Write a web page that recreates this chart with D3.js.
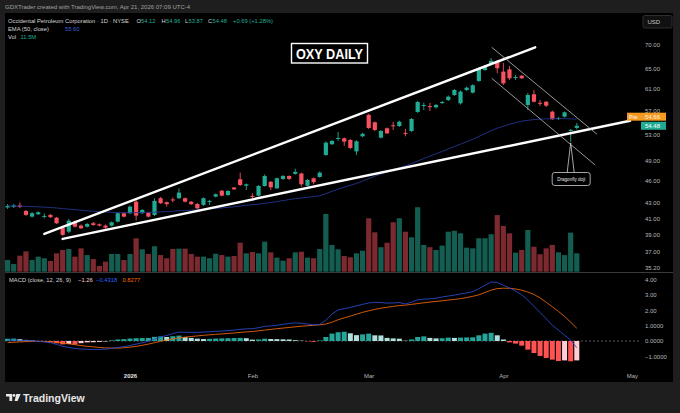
<!DOCTYPE html>
<html>
<head>
<meta charset="utf-8">
<script src="https://cdn.jsdelivr.net/npm/d3@7"></script>
<style>
  html, body { margin: 0; padding: 0; background: #1e1e1e; }
  svg { display: block; font-family: "Liberation Sans", Arial, sans-serif; }
</style>
</head>
<body>
<div id="chart"></div>
<script>
// OHLC, one per trading day, Dec 3 2025 .. Apr 20 2026
const opens = [42.37,42.44,42.63,41.91,41.19,41.49,41.18,41.41,41.06,39.82,
  39.33,40.56,40.07,39.94,40.36,40.23,40.07,40.07,40.56,41.62,
  41.62,43.13,41.62,41.66,41.41,43.59,43.06,43.43,43.59,43.59,
  43.13,42.83,42.70,43.13,43.81,44.61,44.03,45.05,46.21,45.30,
  43.90,43.94,45.26,45.85,44.94,46.25,46.68,46.98,47.04,45.30,
  46.35,46.54,49.80,51.47,52.35,52.42,52.15,50.35,52.74,56.34,
  55.06,52.52,54.06,54.56,54.44,53.30,53.61,56.84,57.90,57.87,
  57.66,58.43,58.97,59.90,58.38,60.82,60.33,62.53,64.68,65.87,
  66.34,64.35,64.81,63.17,63.56,58.07,60.03,58.47,58.66,56.89,
  55.63,56.02,53.70,54.12];
const highs = [42.83,42.83,43.03,42.04,41.79,41.85,41.60,41.53,41.15,40.03,
  40.90,40.71,40.21,40.40,40.52,40.34,40.21,40.58,41.72,41.72,
  42.63,43.36,42.17,41.79,43.59,43.76,43.16,43.70,44.94,43.70,
  43.23,42.96,43.70,43.36,44.24,44.71,44.71,45.12,47.16,45.61,
  44.24,45.40,46.90,45.96,46.47,46.82,46.75,47.73,47.16,46.25,
  46.47,47.34,51.91,52.15,53.44,52.55,52.31,52.10,53.31,56.52,
  55.20,53.77,54.19,55.11,55.36,53.94,55.81,58.79,58.52,58.44,
  58.26,58.79,59.81,61.01,60.73,61.47,61.91,65.28,65.67,67.11,
  66.70,66.10,65.47,63.70,63.70,60.27,60.82,58.97,58.79,57.10,
  55.98,56.93,53.95,54.96];
const lows = [42.17,42.30,42.30,41.28,41.09,41.41,40.96,41.02,40.27,38.82,
  39.17,39.84,39.66,39.84,40.03,39.97,39.59,39.97,40.46,41.09,
  41.53,40.71,41.53,41.09,41.28,42.83,42.48,43.03,43.49,43.03,
  42.70,42.17,42.57,42.70,43.70,43.84,43.90,44.71,45.26,44.71,
  43.56,43.84,45.19,44.71,44.85,46.11,46.11,46.86,45.16,45.19,
  45.50,46.44,49.65,51.36,51.99,51.20,50.73,49.80,52.58,53.94,
  53.61,52.39,53.12,53.77,54.27,52.74,53.44,56.67,57.19,57.01,
  57.48,58.26,58.79,59.72,58.15,60.63,60.17,62.34,64.48,65.67,
  64.04,61.75,62.72,62.72,62.92,57.19,58.52,57.90,57.72,55.45,
  55.45,55.90,51.85,53.87];
const closes = [42.57,42.63,42.44,41.41,41.62,41.75,41.28,41.12,40.36,38.94,
  40.68,39.94,39.74,40.27,40.15,40.07,39.82,40.48,41.62,41.19,
  42.48,41.32,42.04,41.19,43.23,42.93,42.80,43.29,44.35,43.13,
  42.80,42.26,43.59,43.23,44.13,43.94,44.57,44.80,45.40,45.50,
  43.77,45.26,46.68,45.08,46.35,46.68,46.25,47.28,45.50,46.11,
  45.79,47.16,51.72,51.99,52.47,51.88,50.88,51.94,53.15,54.11,
  53.77,53.61,53.22,54.39,55.16,53.14,55.63,58.61,58.08,57.69,
  58.08,58.61,59.58,60.82,60.51,61.25,61.72,65.02,65.47,66.54,
  65.02,62.07,63.05,63.31,63.05,59.90,58.66,58.29,57.95,55.58,
  55.81,56.79,53.79,54.48];
// volume, millions
const volumes = [7.3,4.8,10.0,12.7,7.3,9.4,8.4,6.7,11.5,13.6,
  14.2,9.4,14.6,10.4,7.9,3.6,6.3,11.1,11.1,7.3,
  11.1,20.9,14.0,11.1,15.9,10.4,8.4,14.2,14.4,14.4,
  11.1,9.4,9.4,8.4,11.2,10.4,9.4,9.8,18.1,11.5,
  12.3,11.5,18.8,12.1,8.8,6.9,8.4,12.1,12.5,8.8,
  8.4,14.2,36.1,16.7,14.0,9.8,9.0,11.5,13.1,33.4,
  24.6,15.3,18.1,30.9,33.4,25.0,21.5,40.3,16.7,15.3,
  13.6,16.3,25.0,25.6,24.0,15.0,14.6,20.9,20.9,23.4,
  35.4,28.6,24.0,11.9,13.6,26.1,15.6,10.9,14.6,16.7,
  12.1,10.4,24.4,11.5];
// EMA(50, close)
const ema50 = [42.57,42.56,42.54,42.51,42.48,42.45,42.41,42.36,42.30,42.22,
  42.15,42.08,42.00,41.94,41.88,41.83,41.78,41.74,41.71,41.69,
  41.68,41.70,41.71,41.73,41.76,41.80,41.84,41.88,41.94,41.98,
  42.02,42.06,42.12,42.18,42.25,42.31,42.38,42.46,42.56,42.66,
  42.72,42.80,42.92,43.02,43.14,43.28,43.40,43.54,43.62,43.72,
  43.80,43.92,44.22,44.52,44.82,45.10,45.35,45.62,45.92,46.30,
  46.65,46.95,47.25,47.56,47.88,48.15,48.48,48.88,49.26,49.62,
  49.98,50.34,50.72,51.12,51.48,51.86,52.25,52.72,53.18,53.66,
  54.08,54.40,54.72,55.00,55.25,55.40,55.52,55.60,55.66,55.66,
  55.67,55.70,55.64,55.60];
// MACD (12, 26, 9)
const macdLine = [0.06,0.06,0.05,0.03,0.00,-0.02,-0.06,-0.11,-0.22,-0.35,
  -0.42,-0.48,-0.52,-0.54,-0.55,-0.55,-0.53,-0.48,-0.42,-0.37,
  -0.30,-0.20,-0.12,-0.02,0.12,0.26,0.36,0.48,0.58,0.57,
  0.56,0.56,0.58,0.60,0.63,0.65,0.67,0.71,0.76,0.79,
  0.80,0.86,0.95,0.98,1.02,1.08,1.14,1.18,1.15,1.10,
  1.05,1.08,1.35,1.75,2.02,2.10,2.18,2.28,2.38,2.47,
  2.51,2.50,2.46,2.47,2.50,2.40,2.52,2.68,2.72,2.74,
  2.78,2.86,2.92,2.98,3.05,3.12,3.20,3.40,3.62,3.83,
  3.80,3.62,3.45,3.25,3.00,2.66,2.25,1.85,1.45,1.02,
  0.70,0.38,0.05,-0.4318];
const signalLine = [-0.10,-0.08,-0.06,-0.04,-0.03,-0.02,-0.03,-0.05,-0.08,-0.13,
  -0.18,-0.24,-0.30,-0.34,-0.38,-0.42,-0.45,-0.46,-0.46,-0.44,
  -0.40,-0.35,-0.28,-0.20,-0.11,-0.02,0.06,0.14,0.20,0.25,
  0.29,0.33,0.37,0.40,0.43,0.46,0.49,0.52,0.56,0.59,
  0.62,0.66,0.71,0.75,0.80,0.84,0.88,0.92,0.96,0.99,
  1.02,1.05,1.10,1.22,1.38,1.50,1.62,1.74,1.86,1.96,
  2.05,2.13,2.19,2.25,2.30,2.33,2.38,2.43,2.48,2.53,
  2.57,2.61,2.66,2.70,2.75,2.82,2.90,3.00,3.15,3.30,
  3.40,3.43,3.42,3.38,3.30,3.18,3.02,2.80,2.52,2.22,
  1.92,1.60,1.22,0.8277];
const macdHist = [0.15,0.16,0.12,0.07,0.03,-0.01,-0.04,-0.09,-0.15,-0.22,
  -0.20,-0.23,-0.14,-0.09,-0.08,-0.06,-0.03,0.04,0.10,0.12,
  0.16,0.18,0.19,0.20,0.27,0.30,0.26,0.31,0.35,0.25,
  0.20,0.15,0.13,0.14,0.16,0.17,0.18,0.19,0.20,0.18,
  0.09,0.10,0.15,0.13,0.12,0.11,0.10,0.05,0.02,-0.02,
  -0.05,0.03,0.26,0.48,0.57,0.60,0.50,0.38,0.43,0.48,
  0.37,0.36,0.20,0.17,0.15,0.02,0.10,0.26,0.30,0.20,
  0.17,0.18,0.22,0.20,0.22,0.23,0.24,0.37,0.48,0.53,
  0.37,0.10,-0.09,-0.17,-0.30,-0.56,-0.78,-0.97,-1.10,-1.21,
  -1.30,-1.26,-1.32,-1.26];

// axes
const priceTicks = [70, 65, 61, 57, 53, 49, 46, 43, 41, 39, 37, 35.2];
const macdTicks = [4, 3, 2, 1, 0, -1];
const timeTickIdx = [20, 40, 59, 81, 102];
const timeTickLabels = ['2026', 'Feb', 'Mar', 'Apr', 'May'];

// drawings: [bar index, price]
const upperTrend = [[6.0, 39.05], [86.2, 69.35]];
const lowerTrend = [[9.0, 38.46], [101.7, 55.32]];
const channelTop = [[79.1, 69.36], [96.3, 53.07]];
const channelBottom = [[79.1, 63.05], [96.0, 48.28]];
const prePrice = 54.66;

const W = 680, H = 413;
const upColor = '#22ab94', downColor = '#f7525f';

const svg = d3.select('#chart').append('svg')
    .attr('width', W)
    .attr('height', H);

svg.append('rect').attr('width', W).attr('height', H).attr('fill', '#1e1e1e');
svg.append('rect').attr('x', 5).attr('y', 13).attr('width', 668).attr('height', 369).attr('fill', '#000');

// Escalas
const x = d3.scaleLinear().domain([0, 93]).range([7.6, 576.8]);
const y = d3.scaleLog().domain([35.2, 70]).range([267.7, 44.3]);
const yVol = d3.scaleLinear().domain([0, 40]).range([271.7, 207.7]);
const yMacd = d3.scaleLinear().domain([-1, 4]).range([356.4, 279.4]);

svg.append('clipPath').attr('id', 'pricePane')
    .append('rect').attr('x', 5).attr('y', 13).attr('width', 635).attr('height', 259);

const pane = svg.append('g').attr('clip-path', 'url(#pricePane)');
const bars = d3.range(closes.length);
const isUp = i => closes[i] >= opens[i];

// Volume
pane.selectAll('.vol')
    .data(bars)
    .enter()
    .append('rect')
    .attr('class', 'vol')
    .attr('x', i => x(i) - 2.6)
    .attr('width', 5.2)
    .attr('y', i => yVol(volumes[i]))
    .attr('height', i => yVol(0) - yVol(volumes[i]))
    .attr('fill', i => isUp(i) ? 'rgba(34,171,148,0.55)' : 'rgba(247,82,95,0.5)');

// Candles
const candle = pane.selectAll('.candle')
    .data(bars)
    .enter()
    .append('g')
    .attr('class', 'candle');

candle.append('line')
    .attr('x1', i => x(i)).attr('x2', i => x(i))
    .attr('y1', i => y(highs[i])).attr('y2', i => y(lows[i]))
    .attr('stroke', i => isUp(i) ? upColor : downColor)
    .attr('stroke-width', 0.9);

candle.append('rect')
    .attr('x', i => x(i) - 2.1)
    .attr('width', 4.2)
    .attr('y', i => y(Math.max(opens[i], closes[i])))
    .attr('height', i => Math.max(1, Math.abs(y(opens[i]) - y(closes[i]))))
    .attr('fill', i => isUp(i) ? upColor : downColor);

// EMA 50
pane.append('path')
    .attr('d', d3.line().x((d, i) => x(i)).y(d => y(d))(ema50))
    .attr('fill', 'none')
    .attr('stroke', '#24378f')
    .attr('stroke-width', 0.9);

// Linhas de tendência
const seg = d3.line().x(d => x(d[0])).y(d => y(d[1]));
[upperTrend, lowerTrend].forEach(t => {
    pane.append('path').attr('d', seg(t))
        .attr('stroke', '#fff').attr('stroke-width', 2.4).attr('stroke-linecap', 'round');
});
[channelTop, channelBottom].forEach(t => {
    pane.append('path').attr('d', seg(t))
        .attr('stroke', '#bdbdbd').attr('stroke-width', 0.8);
});

// Dragonfly doji callout
const tipX = x(92), tipY = y(lows[92]);
pane.append('path')
    .attr('d', `M${tipX - 3.5},172.5 L${tipX},${tipY + 1} L${tipX + 3.5},172.5`)
    .attr('fill', 'none').attr('stroke', '#cfcfcf').attr('stroke-width', 0.8);
pane.append('rect')
    .attr('x', tipX - 18.5).attr('y', 172.5).attr('width', 38).attr('height', 13).attr('rx', 2.5)
    .attr('fill', '#000').attr('stroke', '#cfcfcf').attr('stroke-width', 0.8);
pane.append('text')
    .attr('x', tipX + 0.5).attr('y', 181)
    .attr('text-anchor', 'middle')
    .attr('fill', '#e6e6e6')
    .style('font-size', '4.6px')
    .text('Dragonfly doji');

// Title box
svg.append('rect')
    .attr('x', 291.5).attr('y', 43.5).attr('width', 76).attr('height', 19.5)
    .attr('fill', 'none').attr('stroke', '#fff').attr('stroke-width', 1.4);
svg.append('text')
    .attr('x', 296).attr('y', 59)
    .attr('fill', '#fff')
    .attr('textLength', 67).attr('lengthAdjust', 'spacingAndGlyphs')
    .style('font-size', '15px').style('font-weight', 'bold')
    .text('OXY DAILY');

// separator
svg.append('line').attr('x1', 5).attr('x2', 673).attr('y1', 272.5).attr('y2', 272.5)
    .attr('stroke', '#3a3a3a').attr('stroke-width', 1);

// MACD pane
svg.append('line')
    .attr('x1', 5).attr('x2', 640)
    .attr('y1', yMacd(0)).attr('y2', yMacd(0))
    .attr('stroke', '#6a6a6a').attr('stroke-dasharray', '2,2').attr('stroke-width', 0.8);

const histColor = i => {
    const h = macdHist[i], prev = i > 0 ? macdHist[i - 1] : 0;
    if (h >= 0) return h > prev ? '#26a69a' : '#b2dfdb';
    return h < prev ? '#ff5252' : '#ffcdd2';
};
svg.selectAll('.hist')
    .data(bars)
    .enter()
    .append('rect')
    .attr('class', 'hist')
    .attr('x', i => x(i) - 2.5)
    .attr('width', 5)
    .attr('y', i => Math.min(yMacd(0), yMacd(macdHist[i])))
    .attr('height', i => Math.abs(yMacd(macdHist[i]) - yMacd(0)))
    .attr('fill', histColor);

const macdPath = d3.line().x((d, i) => x(i)).y(d => yMacd(d));
svg.append('path').attr('d', macdPath(signalLine))
    .attr('fill', 'none').attr('stroke', '#e8640c').attr('stroke-width', 0.9);
svg.append('path').attr('d', macdPath(macdLine))
    .attr('fill', 'none').attr('stroke', '#2a48c8').attr('stroke-width', 0.9);

// Eixos
const axisText = g => {
    g.select('.domain').remove();
    g.selectAll('line').remove();
    g.selectAll('text')
        .attr('fill', '#b8b8b8')
        .style('font-size', '6px')
        .style('font-family', '"Liberation Sans", Arial, sans-serif');
};

svg.append('g')
    .attr('transform', 'translate(645,0)')
    .call(d3.axisRight(y).tickValues(priceTicks).tickFormat(d3.format('.2f')).tickSize(0).tickPadding(0))
    .call(axisText);

svg.append('g')
    .attr('transform', 'translate(645,0)')
    .call(d3.axisRight(yMacd).tickValues(macdTicks)
        .tickFormat(v => Math.abs(v) < 1.5 ? d3.format('.4f')(v) : d3.format('.2f')(v))
        .tickSize(0).tickPadding(0))
    .call(axisText);

svg.append('g')
    .attr('transform', 'translate(0,374)')
    .call(d3.axisBottom(x).tickValues(timeTickIdx).tickFormat((d, i) => timeTickLabels[i]).tickSize(0).tickPadding(0))
    .call(axisText)
    .call(g => g.selectAll('text').filter(d => d === 20).style('font-weight', 'bold').attr('fill', '#e0e0e0'));

// USD box
svg.append('rect').attr('x', 643).attr('y', 15.5).attr('width', 29).attr('height', 12.5).attr('rx', 1.5)
    .attr('fill', '#111').attr('stroke', '#2e2e2e');
svg.append('text').attr('x', 647.5).attr('y', 24).attr('fill', '#c8c8c8').style('font-size', '6px').text('USD');

// Price labels
const lastY = y(closes[closes.length - 1]);
const preY = y(prePrice) - 8;
svg.append('rect').attr('x', 627).attr('y', preY - 4).attr('width', 14).attr('height', 8).attr('fill', '#f59a23');
svg.append('text').attr('x', 629).attr('y', preY + 2.2).attr('fill', '#fff').style('font-size', '5.5px').text('Pre');
svg.append('rect').attr('x', 641).attr('y', preY - 4).attr('width', 25).attr('height', 8).attr('fill', '#f59a23');
svg.append('text').attr('x', 645).attr('y', preY + 2.2).attr('fill', '#fff3dc').style('font-size', '6px').text(d3.format('.2f')(prePrice));
svg.append('rect').attr('x', 641).attr('y', lastY - 4).attr('width', 25).attr('height', 8).attr('fill', '#22ab94');
svg.append('text').attr('x', 645).attr('y', lastY + 2.2).attr('fill', '#fff').style('font-size', '6px').text(d3.format('.2f')(closes[closes.length - 1]));

// Header
svg.append('text').attr('x', 5).attr('y', 8.7).attr('fill', '#a0a0a0').style('font-size', '6px')
    .text('GDXTrader created with TradingView.com, Apr 21, 2026 07:09 UTC-4');

const legendRow = (yy, parts) => {
    parts.forEach(p => {
        svg.append('text').attr('x', p[0]).attr('y', yy).attr('fill', p[2]).style('font-size', '5.8px').text(p[1]);
    });
};
const last = closes.length - 1;
const chg = closes[last] - closes[last - 1];
legendRow(23, [
    [8, 'Occidental Petroleum Corporation · 1D · NYSE', '#d6d6d6'],
    [136.5, 'O', '#d6d6d6'], [141, d3.format('.2f')(opens[last]), upColor],
    [161.5, 'H', '#d6d6d6'], [166, d3.format('.2f')(highs[last]), upColor],
    [185, 'L', '#d6d6d6'], [188.5, d3.format('.2f')(lows[last]), upColor],
    [208, 'C', '#d6d6d6'], [212.5, d3.format('.2f')(closes[last]), upColor],
    [233, `+${d3.format('.2f')(chg)} (+${d3.format('.2f')(chg / closes[last - 1] * 100)}%)`, upColor]
]);
legendRow(30.8, [[8, 'EMA (50, close)', '#d6d6d6'], [65, d3.format('.2f')(ema50[last]), '#3b5bdb']]);
legendRow(38.5, [[8, 'Vol', '#d6d6d6'], [20.5, d3.format('.1f')(volumes[last]) + 'M', upColor]]);
legendRow(282, [
    [9, 'MACD (close, 12, 26, 9)', '#d6d6d6'],
    [78, d3.format('.2f')(macdHist[last]), '#ffcdd2'],
    [96, d3.format('.4f')(macdLine[last]), '#2962ff'],
    [122.5, d3.format('.4f')(signalLine[last]), '#ff6d00']
]);

// TradingView logo
const logo = svg.append('g').attr('fill', '#e8e8e8');
logo.append('path').attr('d', 'M6,394 H12.2 V401 H9.4 V396.6 H6 Z');
logo.append('circle').attr('cx', 14).attr('cy', 395.4).attr('r', 1.4);
logo.append('path').attr('d', 'M16.3,394 H20.6 L17.6,401 H14.6 Z');
svg.append('text').attr('x', 23).attr('y', 401.5).attr('fill', '#e8e8e8')
    .style('font-size', '10.5px').style('font-weight', '600')
    .text('TradingView');
</script>
</body>
</html>
